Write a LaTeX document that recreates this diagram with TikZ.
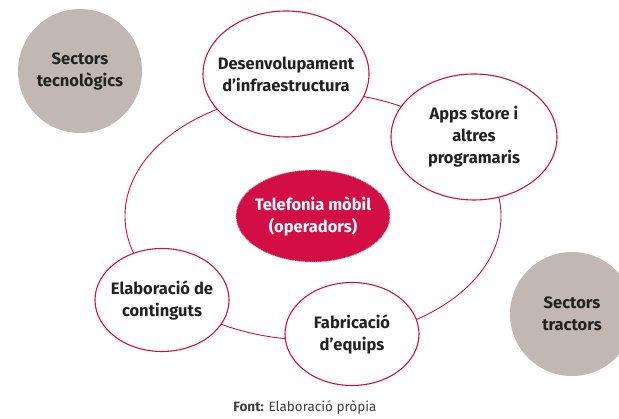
\documentclass[tikz,border=0pt]{standalone}
\usepackage{fontspec}
\setmainfont{Fira Sans}[BoldFont={Fira Sans Bold}]
\usetikzlibrary{shapes.geometric}
\definecolor{vermell}{HTML}{D30E45}
\definecolor{grisos}{HTML}{C2B8B3}
\definecolor{textfosc}{HTML}{222222}
\tikzset{
  lletra/.style={font=\fontsize{16.5}{22}\selectfont\bfseries},
  sector/.style={circle, fill=grisos, minimum size=124pt, inner sep=-30pt,
    align=center, text=textfosc, lletra},
  activitat/.style={ellipse, draw=vermell, line width=1.1pt, fill=white,
    inner xsep=-30pt, inner ysep=0pt, align=center, text=textfosc, lletra},
  nucli/.style={ellipse, fill=vermell, draw=black!25, densely dotted,
    line width=0.9pt, minimum width=154pt, minimum height=92pt,
    inner xsep=-30pt, inner ysep=0pt, align=center, text=white, lletra}}

\begin{document}
\begin{tikzpicture}[x=1pt, y=-1pt]
  \useasboundingbox (0,0) rectangle (619,419);
  % sectors
  \node[sector] (tecno) at (80,71) {Sectors\\tecnològics};
  \begin{scope}
    \clip (0,0) rectangle (619,419);
    \node[sector] (tractors) at (572,314) {Sectors\\tractors};
  \end{scope}
  % cicle
  \coordinate (centre) at (313,216);
  \draw[vermell, line width=0.9pt] (centre) ellipse [x radius=188, y radius=124];
  % activitats
  \node[activitat, minimum width=166pt, minimum height=126pt] (infra) at (286,74) {Desenvolupament\\d’infraestructura};
  \node[activitat, minimum width=166pt, minimum height=126pt] (apps) at (474,137) {Apps store i\\altres\\programaris};
  \node[activitat, minimum width=134pt, minimum height=103pt] (continguts) at (162,300) {Elaboració de\\continguts};
  \node[activitat, minimum width=134pt, minimum height=103pt] (equips) at (352,334) {Fabricació\\d’equips};
  \node[nucli] (operadors) at (centre) {Telefonia mòbil\\(operadors)};
  % font
  \node[text=black!75, font=\fontsize{13.5}{16}\selectfont] (font) at (305,408) {\textbf{Font:} Elaboració pròpia};
\end{tikzpicture}
\end{document}
